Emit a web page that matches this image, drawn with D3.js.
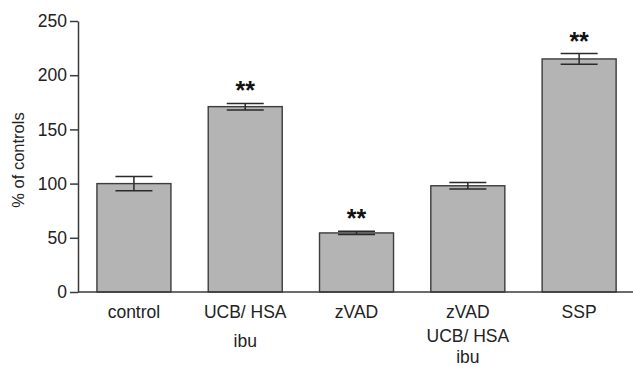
<!DOCTYPE html>
<html>
<head>
<meta charset="utf-8">
<script src="https://cdn.jsdelivr.net/npm/d3@7"></script>
<style>
  html, body { margin: 0; padding: 0; background: #fff; }
  svg { display: block; font-family: "Liberation Sans", Arial, sans-serif; }
</style>
</head>
<body>
<svg id="chart" width="633" height="366"></svg>
<script>
// Group labels (each entry is one multi-line tick label)
const categories = [
  ["control"],
  ["UCB/ HSA", "ibu"],
  ["zVAD"],
  ["zVAD", "UCB/ HSA", "ibu"],
  ["SSP"]
];
// Mean response, % of controls
const values = [100, 171, 54.5, 98, 215];
// Error (± half-range)
const errors = [6.5, 3, 1.5, 3, 5];
// Significance marks
const marks = ["", "**", "**", "", "**"];
// Y-axis ticks
const yTicks = [0, 50, 100, 150, 200, 250];

const svg = d3.select("#chart");
const plotLeft = 78, plotRight = 633, plotTop = 21, plotBottom = 292;

const x = d3.scaleBand()
  .domain(d3.range(categories.length))
  .range([plotLeft, plotLeft + 111.3 * (5 - 0.335 + 0.34)])
  .paddingInner(0.335)
  .paddingOuter(0.17);

const y = d3.scaleLinear().domain([0, 250]).range([plotBottom, plotTop]);

const axisColor = "#3a3a3a";

// Bars
svg.append("g").selectAll("rect")
  .data(values)
  .join("rect")
  .attr("x", (d, i) => x(i))
  .attr("y", d => y(d))
  .attr("width", x.bandwidth())
  .attr("height", d => y(0) - y(d))
  .attr("fill", "#b4b4b4")
  .attr("stroke", "#3c3c3c")
  .attr("stroke-width", 1.4);

// Error bars
const capHalf = 18.5;
const eg = svg.append("g").attr("stroke", "#2a2a2a").attr("stroke-width", 1.5);
values.forEach((v, i) => {
  const cx = x(i) + x.bandwidth() / 2;
  const hi = y(v + errors[i]), lo = y(v - errors[i]);
  eg.append("line").attr("x1", cx).attr("x2", cx).attr("y1", hi).attr("y2", lo);
  eg.append("line").attr("x1", cx - capHalf).attr("x2", cx + capHalf).attr("y1", hi).attr("y2", hi);
  eg.append("line").attr("x1", cx - capHalf).attr("x2", cx + capHalf).attr("y1", lo).attr("y2", lo);
});

// Significance asterisks
svg.append("g").selectAll("text")
  .data(marks)
  .join("text")
  .attr("x", (d, i) => x(i) + x.bandwidth() / 2)
  .attr("y", (d, i) => y(values[i] + errors[i]) - 4)
  .attr("text-anchor", "middle")
  .attr("font-size", 25)
  .attr("font-weight", "bold")
  .attr("fill", "#111")
  .text(d => d);

// Y axis
const yAxis = svg.append("g")
  .attr("transform", `translate(${plotLeft},0)`)
  .call(d3.axisLeft(y).tickValues(yTicks).tickSize(8).tickPadding(3).tickSizeOuter(0));
yAxis.select(".domain").attr("stroke", axisColor).attr("stroke-width", 1.5);
yAxis.selectAll(".tick line").attr("stroke", axisColor).attr("stroke-width", 1.5);
yAxis.selectAll(".tick text")
  .attr("font-size", 17.5)
  .attr("font-family", "Liberation Sans, Arial, sans-serif")
  .attr("fill", "#222");

// X axis baseline
svg.append("line")
  .attr("x1", plotLeft).attr("x2", plotRight)
  .attr("y1", y(0)).attr("y2", y(0))
  .attr("stroke", axisColor).attr("stroke-width", 1.5);

// Multi-line category labels
const lineBaselines = [
  [318],
  [318, 347],
  [318],
  [318, 342, 363],
  [318]
];
const xl = svg.append("g")
  .attr("font-size", 17.5)
  .attr("fill", "#222")
  .attr("text-anchor", "middle");
categories.forEach((lines, i) => {
  lines.forEach((t, j) => {
    xl.append("text")
      .attr("x", x(i) + x.bandwidth() / 2)
      .attr("y", lineBaselines[i][j])
      .text(t);
  });
});

// Y axis title
svg.append("text")
  .attr("transform", "translate(24,160) rotate(-90)")
  .attr("text-anchor", "middle")
  .attr("font-size", 16.5)
  .attr("fill", "#222")
  .text("% of controls");
</script>
</body>
</html>
